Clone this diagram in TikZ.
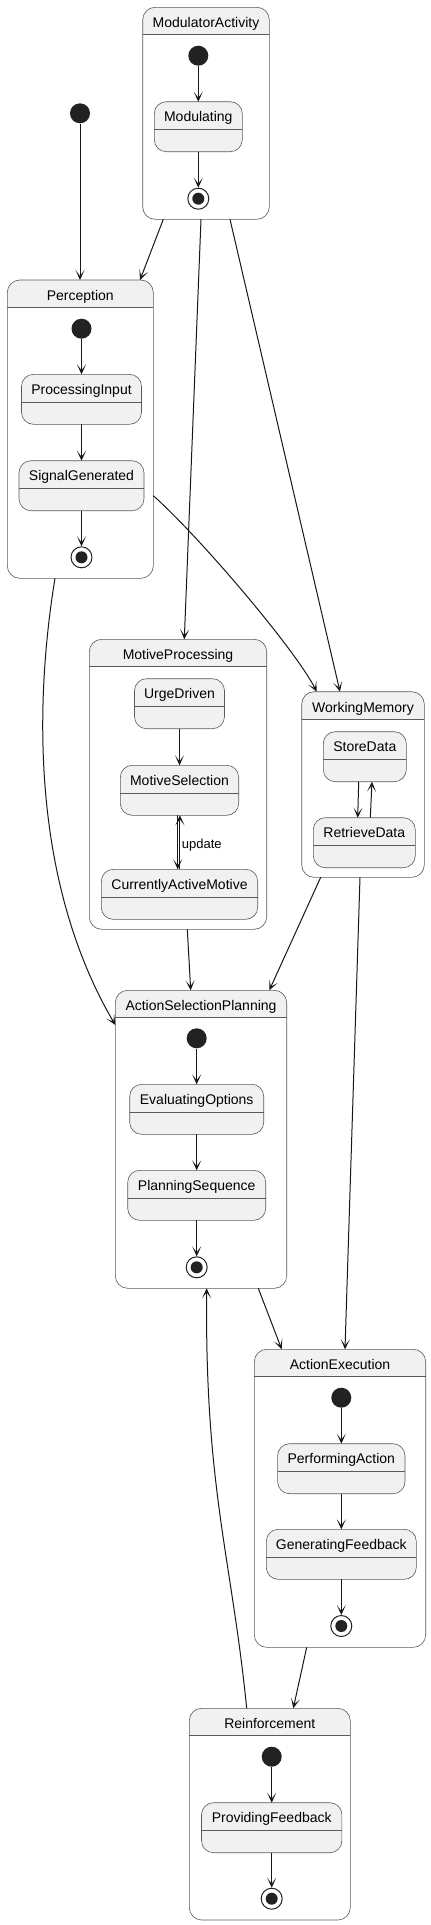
\documentclass[tikz,border=0pt]{standalone}
\usepackage{fontspec}
\setmainfont{Liberation Sans}
\usetikzlibrary{arrows.meta}
\definecolor{fillc}{HTML}{F1F1F1}
\definecolor{linec}{HTML}{181818}
\definecolor{bordc}{HTML}{5A5A5A}
\definecolor{dotc}{HTML}{222222}
\tikzset{
 stnode/.style={rectangle, rounded corners=12pt, draw=bordc, line width=0.6pt, fill=fillc, inner sep=0pt, outer sep=0pt, minimum height=50pt},
 contnode/.style={rectangle, inner sep=0pt, outer sep=0pt},
 initnode/.style={circle, fill=dotc, inner sep=0pt, minimum size=20pt},
 finalnode/.style={circle, draw=dotc, line width=1pt, fill=white, inner sep=0pt, minimum size=21pt},
 lbl/.style={font=\fontsize{14}{16}\selectfont, inner sep=0pt, anchor=base},
 edgelbl/.style={font=\fontsize{13}{15}\selectfont, inner sep=0pt, anchor=base west},
 trans/.style={draw=linec, line width=1pt, -{Stealth[length=10pt,width=9pt,inset=6pt]}},
}
\newcommand{\contbox}[6]{%
 \node[contnode, minimum width=#4pt, minimum height=#5pt, anchor=north] (#1) at (#2,#3) {};
 \begin{scope}
  \clip ([yshift=-27.4pt]#1.north west) rectangle (#1.north east);
  \fill[fillc, rounded corners=12.5pt] (#1.south west) rectangle (#1.north east);
 \end{scope}
 \draw[bordc, line width=0.6pt, rounded corners=12.5pt] (#1.south west) rectangle (#1.north east);
 \draw[bordc, line width=0.6pt] ([yshift=-27.4pt]#1.north west) -- ([yshift=-27.4pt]#1.north east);
 \node[lbl] at ([yshift=-20.3pt]#1.north) {#6};
}
\newcommand{\stbox}[5]{%
 \node[stnode, minimum width=#4pt, anchor=north] (#1) at (#2,#3) {};
 \draw[bordc, line width=0.6pt] ([yshift=-28pt]#1.north west) -- ([yshift=-28pt]#1.north east);
 \node[lbl] at ([yshift=-20pt]#1.north) {#5};
}
\newcommand{\finst}[3]{%
 \node[finalnode] (#1) at (#2,#3) {};
 \fill[dotc] (#1.center) circle[radius=6pt];
}
\begin{document}
\begin{tikzpicture}[x=1pt,y=-1pt]
\useasboundingbox (0,0) rectangle (431,1925);
\fill[white] (0,0) rectangle (431,1925);

% global initial
\node[initnode] (i0) at (80,113.3) {};

% ModulatorActivity
\contbox{MA}{206}{7.3}{126.6}{212}{ModulatorActivity}
\node[initnode] (MAi) at (198.3,55.7) {};
\stbox{Mod}{198.3}{101.7}{88}{Modulating}
\finst{MAf}{198.3}{198.7}
\draw[trans] (MAi) -- (Mod.north);
\draw[trans] (Mod.south) -- (MAf);

% Perception
\contbox{Per}{80.3}{280}{146}{298.3}{Perception}
\node[initnode] (Pi) at (81.5,328.7) {};
\stbox{PIn}{81.5}{374.3}{120}{ProcessingInput}
\stbox{SG}{81.5}{460.7}{125}{SignalGenerated}
\finst{Pf}{81.5}{557.3}
\draw[trans] (Pi) -- (PIn.north);
\draw[trans] (PIn.south) -- (SG.north);
\draw[trans] (SG.south) -- (Pf);

% MotiveProcessing
\contbox{MP}{178}{639.3}{177.4}{290}{MotiveProcessing}
\stbox{UD}{179.5}{678.7}{90}{UrgeDriven}
\stbox{MS}{179.5}{765.3}{118.4}{MotiveSelection}
\stbox{CAM}{179.5}{869.3}{156.4}{CurrentlyActiveMotive}
\draw[trans] (UD.south) -- (MS.north);
\draw[trans] ([xshift=-1.8pt]MS.south) -- ([xshift=-1.8pt]CAM.north);
\draw[trans] ([xshift=0.4pt]CAM.north) -- ([xshift=0.4pt]MS.south);
\node[edgelbl] (lupd) at (181.7,848.3) {update};

% WorkingMemory
\contbox{WM}{363}{691.7}{122.6}{185.6}{WorkingMemory}
\stbox{SD}{364.8}{731.7}{83}{StoreData}
\stbox{RD}{364.3}{817.7}{102}{RetrieveData}
\draw[trans] ([xshift=-6.1pt]SD.south) -- ([xshift=-6.6pt]RD.north);
\draw[trans] ([xshift=6pt]RD.north) -- ([xshift=7.2pt]SD.south);

% ActionSelectionPlanning
\contbox{ASP}{201}{990.3}{171.4}{298}{ActionSelectionPlanning}
\node[initnode] (ASPi) at (196.7,1038.3) {};
\stbox{EO}{196.7}{1084.3}{134}{EvaluatingOptions}
\stbox{PS}{196.7}{1170.3}{138}{PlanningSequence}
\finst{ASPf}{196.7}{1267.3}
\draw[trans] (ASPi) -- (EO.north);
\draw[trans] (EO.south) -- (PS.north);
\draw[trans] (PS.south) -- (ASPf);

% ActionExecution
\contbox{AE}{340}{1349.3}{171.4}{298}{ActionExecution}
\node[initnode] (AEi) at (341.3,1397.7) {};
\stbox{PA}{341.3}{1443.7}{127.4}{PerformingAction}
\stbox{GF}{341.3}{1529.3}{150}{GeneratingFeedback}
\finst{AEf}{341.3}{1626}
\draw[trans] (AEi) -- (PA.north);
\draw[trans] (PA.south) -- (GF.north);
\draw[trans] (GF.south) -- (AEf);

% Reinforcement
\contbox{RE}{269.8}{1708.3}{161}{211.7}{Reinforcement}
\node[initnode] (REi) at (271.7,1756.7) {};
\stbox{PF}{271.7}{1802.7}{140.4}{ProvidingFeedback}
\finst{REf}{271.7}{1898.7}
\draw[trans] (REi) -- (PF.north);
\draw[trans] (PF.south) -- (REf);

% outer transitions
\draw[trans] (i0) -- (i0 |- Per.north);
\draw[trans] ([xshift=-42.7pt]MA.south) -- ([xshift=59.7pt]Per.north);
\draw[trans] ([xshift=-5pt]MA.south) -- ([xshift=6.3pt]MP.north);
\draw[trans] ([xshift=24pt]MA.south) -- ([xshift=-23pt]WM.north);
\draw[trans] ([yshift=-66.5pt]Per.east) .. controls +(50,45) and +(-20,-40) .. ([xshift=-46.3pt]WM.north);
\draw[trans] ([xshift=-25.3pt]Per.south) .. controls +(-20,122) and +(-85,-145) .. ([yshift=114.3pt]ASP.west);
\draw[trans] ([xshift=9.3pt]MP.south) -- ([xshift=-10.3pt]ASP.north);
\draw[trans] ([xshift=-42.3pt]WM.south) -- ([xshift=68.3pt]ASP.north);
\draw[trans] ([xshift=-3pt]WM.south) -- ([xshift=5pt]AE.north);
\draw[trans] ([xshift=57.3pt]ASP.south) -- ([xshift=-58.3pt]AE.north);
\draw[trans] ([xshift=-33.3pt]AE.south) -- ([xshift=23.5pt]RE.north);
\draw[trans] ([xshift=-23.1pt]RE.north) .. controls +(-15,-150) and +(-2,200) .. ([xshift=5.7pt]ASP.south);
\end{tikzpicture}
\end{document}
